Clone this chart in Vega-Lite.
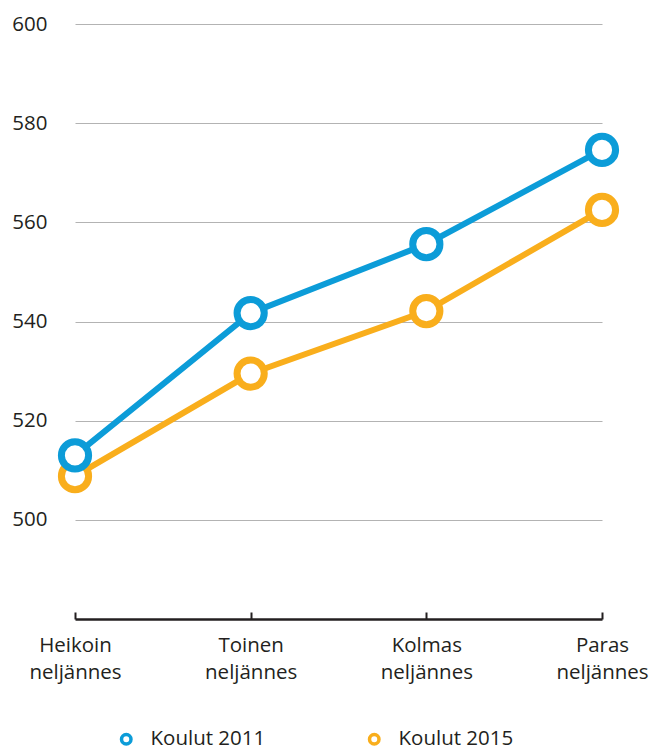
{
  "$schema": "https://vega.github.io/schema/vega-lite/v6.json",
  "width": 527,
  "height": 595,
  "autosize": {"type": "none"},
  "padding": {"left": 75, "top": 24, "right": 51, "bottom": 132},
  "config": {"view": {"stroke": null}, "font": "Open Sans"},
  "data": {"values": [
    {"q": "Heikoin neljännes", "o": 1, "s": "Koulut 2015", "v": 508.8},
    {"q": "Toinen neljännes", "o": 2, "s": "Koulut 2015", "v": 529.5},
    {"q": "Kolmas neljännes", "o": 3, "s": "Koulut 2015", "v": 542.1},
    {"q": "Paras neljännes", "o": 4, "s": "Koulut 2015", "v": 562.5},
    {"q": "Heikoin neljännes", "o": 1, "s": "Koulut 2011", "v": 513.0},
    {"q": "Toinen neljännes", "o": 2, "s": "Koulut 2011", "v": 541.7},
    {"q": "Kolmas neljännes", "o": 3, "s": "Koulut 2011", "v": 555.6},
    {"q": "Paras neljännes", "o": 4, "s": "Koulut 2011", "v": 574.6}
  ]},
  "encoding": {
    "x": {"field": "q", "type": "ordinal", "sort": ["Heikoin neljännes", "Toinen neljännes", "Kolmas neljännes", "Paras neljännes"],
      "scale": {"type": "point", "padding": 0},
      "axis": {"title": null, "labelAngle": 0, "labelExpr": "split(datum.label, ' ')", "labelFontSize": 20.5, "labelLineHeight": 27, "labelColor": "#231f20", "labelPadding": 23,
        "domainColor": "#231f20", "domainWidth": 2.5, "tickColor": "#231f20", "tickWidth": 2, "tickSize": -7, "grid": false}},
    "y": {"field": "v", "type": "quantitative", "scale": {"domain": [480, 600], "nice": false, "zero": false},
      "axis": {"title": null, "values": [500, 520, 540, 560, 580, 600], "domain": false, "ticks": false, "labelPadding": 28, "labelFontSize": 20.5, "labelColor": "#231f20", "gridColor": "#b3b3b3", "gridWidth": 1.2}},
    "color": {"field": "s", "type": "nominal", "scale": {"domain": ["Koulut 2011", "Koulut 2015"], "range": ["#0c9cd8", "#f9ae1c"]},
      "legend": {"title": null, "orient": "none", "legendX": 41, "legendY": 705, "direction": "horizontal", "symbolType": "circle", "symbolFillColor": "white", "symbolStrokeWidth": 3.5, "symbolSize": 90, "labelFontSize": 20.5, "labelColor": "#231f20", "labelOffset": 14, "columnPadding": 96}}
  },
  "layer": [
    {"mark": {"type": "line", "strokeWidth": 6}, "encoding": {"detail": {"field": "s"}}},
    {"mark": {"type": "point", "shape": "circle", "filled": false, "fill": "white", "fillOpacity": 1, "strokeWidth": 7, "size": 740, "opacity": 1}}
  ]
}
